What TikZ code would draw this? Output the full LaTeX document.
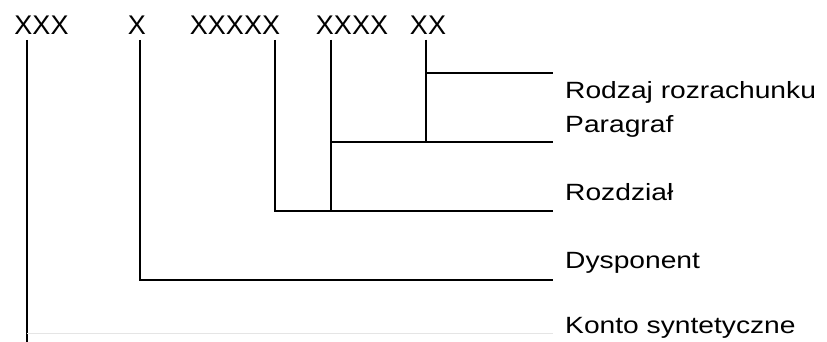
\documentclass[tikz,border=0pt]{standalone}
\usepackage{fontspec}
\setmainfont{Liberation Sans}
\newfontfamily\labelfont[FakeStretch=1.2]{Liberation Sans}
\usetikzlibrary{positioning}
\begin{document}
\begin{tikzpicture}[x=1pt,y=-1pt,
    code/.style={anchor=base,inner sep=0pt,font=\fontsize{27}{30}\selectfont},
    part/.style={anchor=base west,inner sep=0pt,font=\labelfont\fontsize{23.5}{26}\selectfont},
    tree/.style={line width=1.3pt}]
    \useasboundingbox (0,0) rectangle (827,342);

    % account number groups
    \node[code] (konto) at (41.5,35) {XXX};
    \node[code] (dysp) at (137,35) {X};
    \node[code] (rozdz) at (235,35) {XXXXX};
    \node[code] (parag) at (352,35) {XXXX};
    \node[code] (rodz) at (428,35) {XX};

    % meaning of each group
    \node[part] (lrodz) at (565,99) {Rodzaj rozrachunku};
    \node[part] (lparag) at (565,132) {Paragraf};
    \node[part] (lrozdz) at (565,200) {Rozdział};
    \node[part] (ldysp) at (565,268) {Dysponent};
    \node[part] (lkonto) at (565,333) {Konto syntetyczne};

    % tops of the leads and ends of the branches
    \coordinate (kontoT) at (27,40);
    \coordinate (dyspT) at (140,40);
    \coordinate (rozdzT) at (275,40);
    \coordinate (paragT) at (331,40);
    \coordinate (rodzT) at (426,40);
    \coordinate (rodzE) at (553,73);
    \coordinate (paragE) at (553,142);
    \coordinate (rozdzE) at (553,211);
    \coordinate (dyspE) at (553,280);
    \coordinate (kontoE) at (553,333);

    % branches
    \draw[tree] (rodzT) |- (rodzE);
    \draw[tree] (rodzT) -- (rodzT |- paragE);
    \draw[tree] (paragT) |- (paragE);
    \draw[tree] (paragT) -- (paragT |- rozdzE);
    \draw[tree] (rozdzT) |- (rozdzE);
    \draw[tree] (dyspT) |- (dyspE);
    \draw[tree] (kontoT) -- (27,342);
    \draw[black!10,line width=1pt] (kontoT |- kontoE) -- (kontoE);

\end{tikzpicture}
\end{document}
